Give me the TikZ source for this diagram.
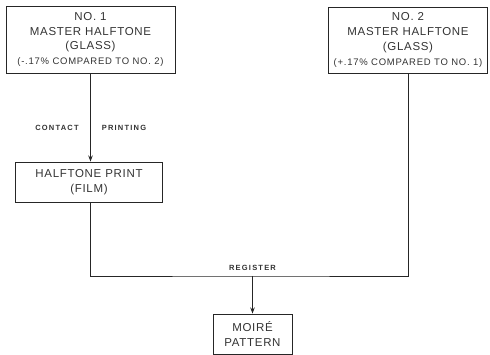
\documentclass[tikz,border=0pt]{standalone}
\usepackage{fontspec}
\setmainfont{Liberation Sans}
\newfontfamily\boxfont[LetterSpace=6]{Liberation Sans}
\newfontfamily\smallfont[LetterSpace=8]{Liberation Sans}
\newfontfamily\lblfont[LetterSpace=16]{Liberation Sans Bold}
\usetikzlibrary{arrows.meta}
\begin{document}
\begin{tikzpicture}[x=1pt,y=-1pt,
  box/.style={draw=black!85, line width=0.95pt, inner sep=0pt, align=center,
    font=\boxfont\fontsize{11.5}{14.8}\selectfont, text=black!80},
  lbl/.style={inner sep=0pt, font=\lblfont\fontsize{7.5}{9}\selectfont, text=black!80},
  conn/.style={line width=0.85pt, draw=black!85},
  arr/.style={conn, -{Stealth[length=6pt,width=4.5pt]}}]
\useasboundingbox (0,0) rectangle (490,355);
\node[box, minimum width=169pt, minimum height=67pt] (m1) at (90.5,39.5)
  {NO. 1\\MASTER HALFTONE\\(GLASS)\\{\smallfont\fontsize{9.5}{14.8}\selectfont(-.17\% COMPARED TO NO. 2)}};
\node[box, minimum width=159pt, minimum height=66pt] (m2) at (408,40)
  {NO. 2\\MASTER HALFTONE\\(GLASS)\\{\smallfont\fontsize{9.5}{14.8}\selectfont(+.17\% COMPARED TO NO. 1)}};
\node[box, minimum width=147pt, minimum height=40pt] (film) at (89,182)
  {HALFTONE PRINT\\(FILM)};
\node[box, minimum width=79pt, minimum height=40pt] (moire) at (252.5,334)
  {MOIRÉ\\PATTERN};
\coordinate (reg) at (252.5,276);
\node[lbl] (contact) at (57,128) {CONTACT};
\node[lbl] (printing) at (124,128) {PRINTING};
\node[lbl] (register) at (252.5,268) {REGISTER};
\draw[arr] (m1.south) -- (m1.south |- film.north);
\draw[conn] (m1.south |- film.south) |- (reg) -| (m2.south);
\draw[arr] (reg) -- (moire.north);
\end{tikzpicture}
\end{document}
